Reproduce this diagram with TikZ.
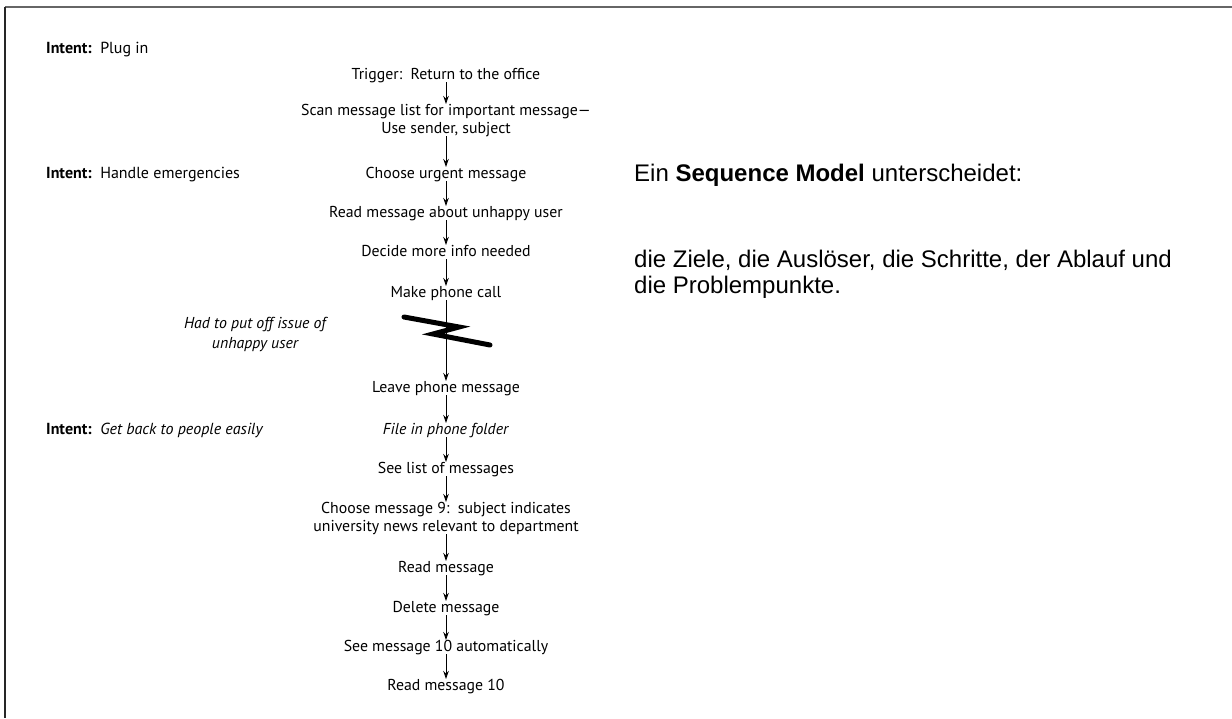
\documentclass[tikz,border=0pt]{standalone}
\usepackage{fontspec}
\setmainfont{PT Sans}
\newfontfamily\arialfont{Liberation Sans}
\usetikzlibrary{arrows.meta}
\begin{document}
\begin{tikzpicture}[x=1pt,y=-1pt,
  stepbox/.style={font=\fontsize{15.8}{18}\selectfont, inner sep=0pt,
    text height=11pt, text depth=3pt, anchor=north},
  intentbox/.style={font=\fontsize{16}{18}\selectfont, inner sep=0pt, anchor=base west},
  notebox/.style={font=\fontsize{15.8}{20}\selectfont\itshape, inner sep=0pt, align=center},
  flow/.style={-{Stealth[length=8pt,width=5.5pt]}, line width=0.9pt},
  summary/.style={font=\arialfont\fontsize{24}{26}\selectfont, inner sep=0pt, anchor=base west}
]
\useasboundingbox (0,0) rectangle (1232,718);

% frame
\draw[line width=2pt, gray!80!black] (5,7) -- (1232,7);
\draw[line width=2pt, black!85] (5,7) -- (5,718);

% intents
\node[intentbox] (i1) at (46,53) {\textbf{Intent:}\ \ Plug in};
\node[intentbox] (i2) at (46,178) {\textbf{Intent:}\ \ Handle emergencies};
\node[intentbox] (i3) at (46,434) {\textbf{Intent:}\ \ \textit{Get back to people easily}};

% steps of the sequence
\def\cx{446}
\node[stepbox] (s1) at (\cx,68) {Trigger:\ \ Return to the office};
\node[stepbox] (s2a) at (\cx,104) {Scan message list for important message---};
\node[stepbox] (s2b) at (\cx,122) {Use sender, subject};
\node[stepbox] (s3) at (\cx,167) {Choose urgent message};
\node[stepbox] (s4) at (\cx,206) {Read message about unhappy user};
\node[stepbox] (s5) at (\cx,245) {Decide more info needed};
\node[stepbox] (s6) at (\cx,286) {Make phone call};
\node[stepbox] (s7) at (\cx,381) {Leave phone message};
\node[stepbox] (s8) at (\cx,423) {\textit{File in phone folder}};
\node[stepbox] (s9) at (\cx,462) {See list of messages};
\node[stepbox] (s10a) at (\cx,502) {Choose message 9:\ \ subject indicates};
\node[stepbox] (s10b) at (\cx,520) {university news relevant to department};
\node[stepbox] (s11) at (\cx,561) {Read message};
\node[stepbox] (s12) at (\cx,601) {Delete message};
\node[stepbox] (s13) at (\cx,640) {See message 10 automatically};
\node[stepbox] (s14) at (\cx,679) {Read message 10};

\draw[flow] (s1) -- (s2a);
\draw[flow] (s2b) -- (s3);
\draw[flow] (s3) -- (s4);
\draw[flow] (s4) -- (s5);
\draw[flow] (s5) -- (s6);
\draw[flow] (s6) -- (s7);
\draw[flow] (s7) -- (s8);
\draw[flow] (s8) -- (s9);
\draw[flow] (s9) -- (s10a);
\draw[flow] (s10b) -- (s11);
\draw[flow] (s11) -- (s12);
\draw[flow] (s12) -- (s13);
\draw[flow] (s13) -- (s14);

% breakdown marker
\draw[line width=5pt, line cap=round, line join=miter]
  (404,317) -- (459,327) -- (433,334) -- (490,345);
\node[notebox] (brk) at (255,334) {Had to put off issue of\\unhappy user};

% summary text
\node[summary] (t1) at (634,181) {Ein \textbf{Sequence Model} unterscheidet:};
\node[summary] (t2) at (634,267) {die Ziele, die Auslöser, die Schritte, der Ablauf und};
\node[summary] (t3) at (634,293) {die Problempunkte.};
\end{tikzpicture}
\end{document}
